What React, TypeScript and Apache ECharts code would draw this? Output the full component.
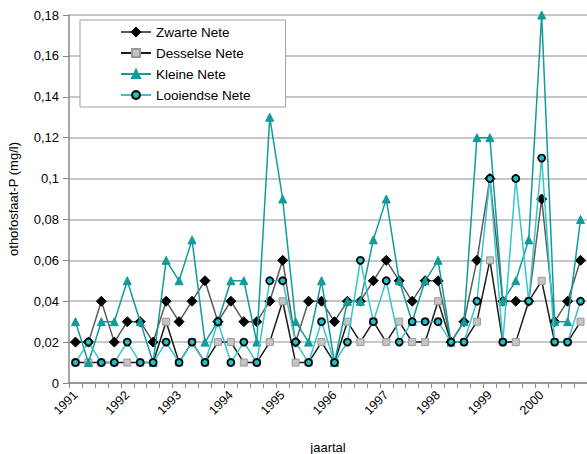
import React, { useEffect, useRef } from "react";
import * as echarts from "echarts";

// Quarterly measurements, 1991 Q1 through 2000 Q4
const years = [1991, 1992, 1993, 1994, 1995, 1996, 1997, 1998, 1999, 2000];
const quarters = ["Q1", "Q2", "Q3", "Q4"];

const zwarteNete = [
  0.02, 0.02, 0.04, 0.02, 0.03, 0.03, 0.02, 0.04, 0.03, 0.04,
  0.05, 0.03, 0.04, 0.03, 0.03, 0.04, 0.06, 0.02, 0.04, 0.04,
  0.03, 0.04, 0.04, 0.05, 0.06, 0.05, 0.04, 0.05, 0.05, 0.02,
  0.03, 0.06, 0.1, 0.04, 0.04, 0.04, 0.09, 0.03, 0.04, 0.06,
];
const desselseNete = [
  0.01, 0.01, 0.01, 0.01, 0.01, 0.01, 0.01, 0.03, 0.01, 0.02,
  0.01, 0.02, 0.02, 0.01, 0.01, 0.02, 0.04, 0.01, 0.01, 0.02,
  0.01, 0.03, 0.02, 0.03, 0.02, 0.03, 0.02, 0.02, 0.04, 0.02,
  0.02, 0.03, 0.06, 0.02, 0.02, 0.04, 0.05, 0.02, 0.02, 0.03,
];
const kleineNete = [
  0.03, 0.01, 0.03, 0.03, 0.05, 0.03, 0.01, 0.06, 0.05, 0.07,
  0.02, 0.03, 0.05, 0.05, 0.02, 0.13, 0.09, 0.03, 0.02, 0.05,
  0.01, 0.04, 0.04, 0.07, 0.09, 0.05, 0.03, 0.05, 0.06, 0.02,
  0.03, 0.12, 0.12, 0.04, 0.05, 0.07, 0.18, 0.03, 0.03, 0.08,
];
const looiendseNete = [
  0.01, 0.02, 0.01, 0.01, 0.02, 0.01, 0.01, 0.02, 0.01, 0.02,
  0.01, 0.03, 0.01, 0.02, 0.01, 0.05, 0.05, 0.02, 0.01, 0.03,
  0.01, 0.02, 0.06, 0.03, 0.05, 0.02, 0.03, 0.03, 0.03, 0.02,
  0.02, 0.04, 0.1, 0.02, 0.1, 0.04, 0.11, 0.02, 0.02, 0.04,
];

const FONT = "'Liberation Sans', Arial, sans-serif";

export default function App() {
  const ref = useRef<HTMLDivElement>(null);

  useEffect(() => {
    if (!ref.current) return;
    const chart = echarts.init(ref.current, undefined, { renderer: "svg" });

    const categories: string[] = [];
    years.forEach((y) => quarters.forEach((q) => categories.push(`${y} ${q}`)));

    const fmt = (v: number) =>
      v === 0 ? "0" : String(parseFloat(v.toFixed(2))).replace(".", ",");

    chart.setOption({
      animation: false,
      backgroundColor: "#ffffff",
      textStyle: { fontFamily: FONT },
      grid: {
        left: 69,
        top: 15,
        right: 0,
        bottom: 71,
        containLabel: false,
        outerBoundsMode: "none",
      },
      legend: {
        orient: "vertical",
        left: 80,
        top: 20,
        padding: [5, 35, 5, 40],
        itemGap: 7,
        itemWidth: 30,
        itemHeight: 10,
        backgroundColor: "#ffffff",
        borderColor: "#a0a0a0",
        borderWidth: 1,
        textStyle: { fontFamily: FONT, fontSize: 13.5, color: "#000000" },
        data: ["Zwarte Nete", "Desselse Nete", "Kleine Nete", "Looiendse Nete"],
      },
      xAxis: {
        type: "category",
        data: categories,
        boundaryGap: true,
        name: "jaartal",
        nameLocation: "middle",
        nameGap: 58,
        nameTextStyle: { fontFamily: FONT, fontSize: 13, color: "#000000" },
        axisLine: { lineStyle: { color: "#888888", width: 1.5 } },
        axisTick: { show: true, interval: 0, length: 5, lineStyle: { color: "#888888" } },
        axisLabel: {
          interval: 3,
          rotate: 45,
          margin: 10,
          fontFamily: FONT,
          fontSize: 12.5,
          color: "#000000",
          formatter: (v: string) => v.split(" ")[0],
        },
        splitLine: { show: false },
      },
      yAxis: {
        type: "value",
        min: 0,
        max: 0.18,
        interval: 0.02,
        name: "othofosfaat-P (mg/l)",
        nameLocation: "middle",
        nameGap: 49,
        nameTextStyle: { fontFamily: FONT, fontSize: 13, color: "#000000" },
        axisLine: { show: true, lineStyle: { color: "#888888", width: 1.5 } },
        axisTick: { show: true, length: 6, lineStyle: { color: "#888888" } },
        axisLabel: {
          fontFamily: FONT,
          fontSize: 13,
          color: "#000000",
          margin: 10,
          formatter: fmt,
        },
        splitLine: { show: true, lineStyle: { color: "#b4b4b4", width: 1.5 } },
      },
      series: [
        {
          name: "Zwarte Nete",
          type: "line",
          data: zwarteNete,
          showAllSymbol: true,
          symbol: "diamond",
          symbolSize: 10,
          lineStyle: { color: "#5a5a5a", width: 1.5 },
          itemStyle: { color: "#000000", borderColor: "#000000", borderWidth: 1 },
          z: 2,
        },
        {
          name: "Desselse Nete",
          type: "line",
          data: desselseNete,
          showAllSymbol: true,
          symbol: "rect",
          symbolSize: 7,
          lineStyle: { color: "#1a1a1a", width: 1.5 },
          itemStyle: { color: "#c4c4c4", borderColor: "#9a9a9a", borderWidth: 1 },
          z: 3,
        },
        {
          name: "Kleine Nete",
          type: "line",
          data: kleineNete,
          showAllSymbol: true,
          symbol: "triangle",
          symbolSize: 8,
          lineStyle: { color: "#139a9a", width: 1.5 },
          itemStyle: { color: "#139a9a", borderColor: "#139a9a", borderWidth: 1 },
          z: 4,
        },
        {
          name: "Looiendse Nete",
          type: "line",
          data: looiendseNete,
          showAllSymbol: true,
          symbol: "circle",
          symbolSize: 7,
          lineStyle: { color: "#33c6cc", width: 1.5 },
          itemStyle: { color: "#20c0c8", borderColor: "#000000", borderWidth: 1.8 },
          z: 5,
        },
      ],
    });

    return () => chart.dispose();
  }, []);

  return (
    <div
      ref={ref}
      style={{ position: "fixed", left: 0, top: 0, width: 587, height: 454 }}
    />
  );
}
